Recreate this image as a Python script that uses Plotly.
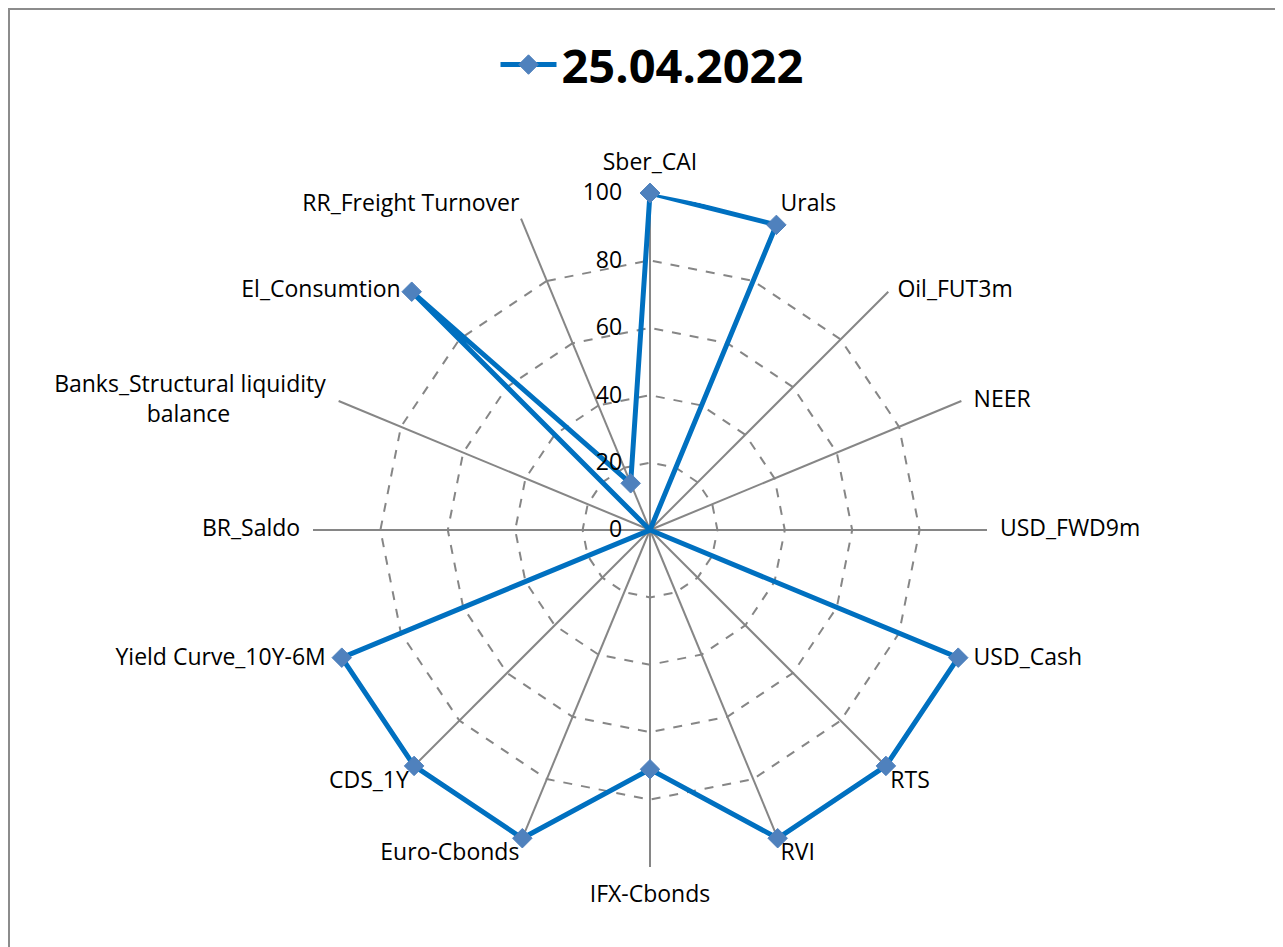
import plotly.graph_objects as go

categories = ["Sber_CAI", "Urals", "Oil_FUT3m", "NEER", "USD_FWD9m", "USD_Cash", "RTS", "RVI",
              "IFX-Cbonds", "Euro-Cbonds", "CDS_1Y", "Yield Curve_10Y-6M", "BR_Saldo",
              "Banks_Structural liquidity balance", "El_Consumtion", "RR_Freight Turnover"]
values = [100, 98, 0, 0, 0, 99, 99, 99, 71, 99, 99, 99, 0, 0, 100, 15]
series_name = "25.04.2022"
radial_ticks = [0, 20, 40, 60, 80, 100]

NBSP = "\u00a0"
# category labels as displayed (second line of the long label kept centred under the first)
tick_labels = ["Sber_CAI", "Urals", "Oil_FUT3m", "NEER", "USD_FWD9m", "USD_Cash", "RTS", "RVI",
               "IFX-Cbonds", "Euro-Cbonds", "CDS_1Y", "Yield Curve_10Y-6M", "BR_Saldo",
               "Banks_Structural liquidity<br>balance" + NBSP * 16, "El_Consumtion",
               "RR_Freight Turnover"]
# where each category label sits around its outer vertex (Excel-like placement)
label_positions = ["top center", "top right", "middle right", "middle right", "middle right",
                   "middle right", "bottom right", "bottom right", "bottom center", "bottom left",
                   "bottom left", "middle left", "middle left", "middle left", "middle left",
                   "top left"]
label_offsets = [26, 1, 13, 18, 19, 18, 1.6, 1, 27, 1, 3, 19, 19, 19, 16, 1]

radial_ticktext = [f"{v}" + NBSP * 4 for v in radial_ticks]

OX, OY = 8, 8  # page body margin
W, H = 1283 - OX, 947 - OY
cx, cy, R = 650 - OX, 530 - OY, 337

font_family = "Open Sans"

fig = go.Figure()
# category labels on the outer ring
fig.add_trace(go.Scatterpolar(
    r=[radial_ticks[-1]] * len(categories),
    theta=categories,
    mode="markers+text",
    text=tick_labels,
    textposition=label_positions,
    textfont=dict(family=font_family, size=23, color="black"),
    marker=dict(size=label_offsets, opacity=0, color="white"),
    cliponaxis=False,
    hoverinfo="skip",
    showlegend=False,
))
fig.add_trace(go.Scatterpolar(
    r=values + values[:1],
    theta=categories + categories[:1],
    mode="lines+markers",
    name=series_name,
    line=dict(color="#0070C0", width=5),
    marker=dict(symbol="diamond", size=15, color="#4F81BD", line=dict(color="#4F81BD", width=1)),
))

fig.update_layout(
    width=W, height=H,
    margin=dict(l=0, r=0, t=0, b=0),
    paper_bgcolor="white",
    plot_bgcolor="white",
    font=dict(family=font_family, size=23, color="black"),
    showlegend=True,
    legend=dict(
        orientation="h", x=(652 - OX) / W, y=1 - (65 - OY) / H, xanchor="center", yanchor="middle",
        font=dict(family=font_family, size=47, color="black", weight="bold"),
        itemwidth=56, bgcolor="rgba(0,0,0,0)",
    ),
    polar=dict(
        domain=dict(x=[(cx - R) / W, (cx + R) / W], y=[1 - (cy + R) / H, 1 - (cy - R) / H]),
        bgcolor="white",
        gridshape="linear",
        angularaxis=dict(
            type="category",
            categoryorder="array", categoryarray=categories,
            rotation=90, direction="clockwise",
            showline=False, ticks="", showticklabels=False,
            gridcolor="#868686", gridwidth=1.5, griddash="solid",
        ),
        radialaxis=dict(
            range=[0, 100], tickmode="array", tickvals=radial_ticks, ticktext=radial_ticktext,
            angle=90, side="counterclockwise", showline=False, ticks="",
            tickangle=90,
            gridcolor="#868686", gridwidth=1.5, griddash="dash",
            tickfont=dict(family=font_family, size=23, color="black"),
        ),
    ),
    shapes=[dict(type="rect", xref="paper", yref="paper",
                 x0=1 / W, x1=1.02, y0=-0.02, y1=1 - 1 / H,
                 line=dict(color="#8c8c8c", width=2), fillcolor="rgba(0,0,0,0)", layer="below")],
)

fig.write_html("out.html")
